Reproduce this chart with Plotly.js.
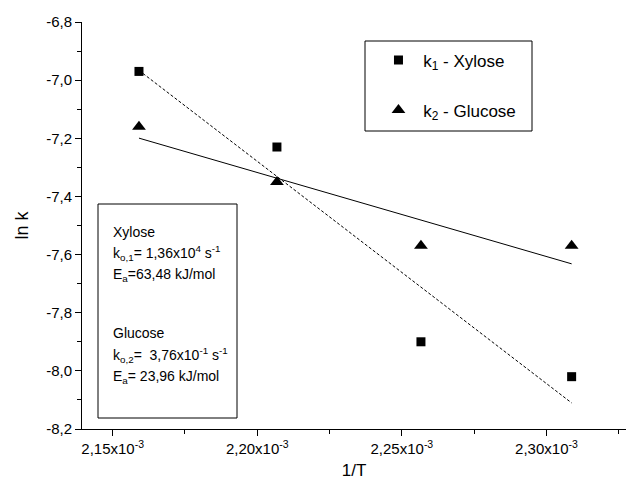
<!DOCTYPE html>
<html>
<head>
<meta charset="utf-8">
<script src="https://cdn.plot.ly/plotly-3.0.1.min.js"></script>
<style>html,body{margin:0;padding:0;background:#fff;}#chart{width:633px;height:491px;}</style>
</head>
<body>
<div id="chart"></div>
<script>
// 1/T values (K^-1)
const invT = [2.1591e-3, 2.2068e-3, 2.2566e-3, 2.3087e-3];
// ln k values
const lnkXylose = [-6.97, -7.23, -7.90, -8.02];
const lnkGlucose = [-7.16, -7.35, -7.57, -7.57];

const legendXylose = ' k<sub>1</sub> - Xylose';
const legendGlucose = ' k<sub>2</sub> - Glucose';

const xTickVals = [2.15e-3, 2.20e-3, 2.25e-3, 2.30e-3];
const xTickText = ['2,15x10<sup>-3</sup>', '2,20x10<sup>-3</sup>', '2,25x10<sup>-3</sup>', '2,30x10<sup>-3</sup>'];
const xMinorVals = [2.175e-3, 2.225e-3, 2.275e-3, 2.325e-3];
const yTickVals = [-8.2, -8.0, -7.8, -7.6, -7.4, -7.2, -7.0, -6.8];
const yTickText = ['-8,2', '-8,0', '-7,8', '-7,6', '-7,4', '-7,2', '-7,0', '-6,8'];
const yMinorVals = [-8.1, -7.9, -7.7, -7.5, -7.3, -7.1, -6.9];

const boxLines = [
  'Xylose',
  'k<sub>o,1</sub>= 1,36x10<sup>4</sup> s<sup>-1</sup>',
  'E<sub>a</sub>=63,48 kJ/mol',
  'Glucose',
  'k<sub>o,2</sub>=  3,76x10<sup>-1</sup> s<sup>-1</sup>',
  'E<sub>a</sub>= 23,96 kJ/mol'
];

function linFit(xs, ys) {
  const n = xs.length;
  const mx = xs.reduce((a, b) => a + b, 0) / n;
  const my = ys.reduce((a, b) => a + b, 0) / n;
  let sxy = 0, sxx = 0;
  for (let i = 0; i < n; i++) { sxy += (xs[i] - mx) * (ys[i] - my); sxx += (xs[i] - mx) ** 2; }
  const b = sxy / sxx, a = my - b * mx;
  const x0 = Math.min(...xs), x1 = Math.max(...xs);
  return { x: [x0, x1], y: [a + b * x0, a + b * x1] };
}

const fitX = linFit(invT, lnkXylose);
const fitG = linFit(invT, lnkGlucose);

const FONT = 'Liberation Sans, Arial, sans-serif';

const traces = [
  { x: fitX.x, y: fitX.y, mode: 'lines', line: { color: 'black', width: 1, dash: '3px,2px' }, showlegend: false, hoverinfo: 'skip' },
  { x: fitG.x, y: fitG.y, mode: 'lines', line: { color: 'black', width: 1 }, showlegend: false, hoverinfo: 'skip' },
  { x: invT, y: lnkXylose, mode: 'markers', name: legendXylose, legendgroup: 'a',
    marker: { symbol: 'square', size: 9, color: 'black' } },
  { x: invT, y: lnkGlucose, mode: 'markers', name: legendGlucose, legendgroup: 'b',
    marker: { symbol: 'triangle-up', size: 12, color: 'black' } }
];

const annotations = [];
const ys = [231.7, 253, 275, 333, 355, 376.7];
for (let i = 0; i < boxLines.length; i++) {
  annotations.push({
    xref: 'paper', yref: 'paper', x: 0.053, y: (429 - ys[i]) / 407,
    xanchor: 'left', yanchor: 'middle', showarrow: false, align: 'left',
    text: boxLines[i], font: { family: FONT, size: 14, color: 'black' }
  });
}

const layout = {
  width: 633, height: 491,
  margin: { l: 82, r: 7, t: 22, b: 62 },
  paper_bgcolor: 'white', plot_bgcolor: 'white',
  font: { family: FONT, size: 15, color: 'black' },
  xaxis: {
    range: [2.1394e-3, 2.3275e-3],
    showline: true, linecolor: 'black', linewidth: 1, mirror: false,
    showgrid: false, zeroline: false,
    ticks: 'outside', ticklen: 6, tickwidth: 1, tickcolor: 'black',
    tickmode: 'array', tickvals: xTickVals, ticktext: xTickText,
    tickfont: { family: FONT, size: 15 },
    minor: { tickmode: 'array', tickvals: xMinorVals, ticks: 'outside', ticklen: 4, tickcolor: 'black', showgrid: false },
    title: { text: '1/T', font: { family: FONT, size: 17 }, standoff: 8 }
  },
  yaxis: {
    range: [-8.2, -6.8],
    showline: true, linecolor: 'black', linewidth: 1, mirror: false,
    showgrid: false, zeroline: false,
    ticks: 'outside', ticklen: 6, tickwidth: 1, tickcolor: 'black',
    tickmode: 'array', tickvals: yTickVals, ticktext: yTickText,
    tickfont: { family: FONT, size: 15 },
    minor: { tickmode: 'array', tickvals: yMinorVals, ticks: 'outside', ticklen: 4, tickcolor: 'black', showgrid: false },
    title: { text: 'ln k', font: { family: FONT, size: 18 }, standoff: 12 }
  },
  legend: {
    x: 0.545, y: 0.95, xanchor: 'left', yanchor: 'top',
    bgcolor: 'rgba(0,0,0,0)', borderwidth: 0,
    traceorder: 'grouped', tracegroupgap: 25,
    font: { family: FONT, size: 17, color: 'black' }
  },
  shapes: [
    { type: 'rect', xref: 'paper', yref: 'paper',
      x0: (365 - 82) / 544, x1: (532 - 82) / 544, y0: (429 - 131) / 407, y1: (429 - 41) / 407,
      line: { color: 'black', width: 1 }, fillcolor: 'rgba(0,0,0,0)' },
    { type: 'rect', xref: 'paper', yref: 'paper',
      x0: (98 - 82) / 544, x1: (237 - 82) / 544, y0: (429 - 418) / 407, y1: (429 - 204) / 407,
      line: { color: 'black', width: 1 }, fillcolor: 'rgba(0,0,0,0)' }
  ],
  annotations: annotations,
  showlegend: true
};

Plotly.newPlot('chart', traces, layout, { displayModeBar: false, staticPlot: true });
</script>
</body>
</html>
